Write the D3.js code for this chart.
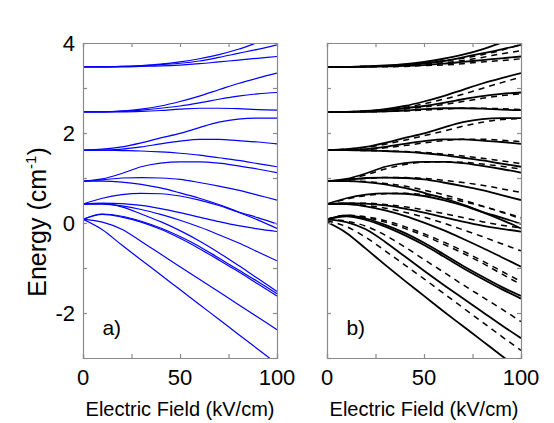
<!DOCTYPE html>
<html><head><meta charset="utf-8">
<script src="https://cdn.jsdelivr.net/npm/d3@7"></script>
<style>body{margin:0;background:#fff}svg{display:block}text{font-family:"Liberation Sans",Arial,sans-serif;fill:#000}</style>
</head><body><svg id="c" width="554" height="423"></svg>
<script>
// Electric field samples (kV/cm)
const fieldKV = [0,10,20,30,40,50,60,70,80,90,100];
const xTickValues = [0,25,50,75,100];
const xTickLabels = [0,50,100];
const yTickValues = [-3,-2,-1,0,1,2,3,4];
const yTickLabels = [-2,0,2,4];

// Panel a (blue) energy levels (cm^-1)
const A01 = [3.47,3.47,3.48,3.50,3.53,3.58,3.65,3.74,3.86,4.01,4.16];
const A02 = [3.47,3.47,3.48,3.49,3.52,3.55,3.60,3.68,3.77,3.86,3.96];
const A03 = [3.47,3.47,3.47,3.48,3.49,3.51,3.54,3.58,3.62,3.66,3.70];
const A04 = [2.47,2.47,2.49,2.53,2.60,2.70,2.82,2.96,3.10,3.22,3.33];
const A05 = [2.47,2.47,2.48,2.51,2.55,2.60,2.67,2.75,2.82,2.87,2.90];
const A06 = [2.47,2.47,2.47,2.48,2.50,2.53,2.55,2.55,2.54,2.52,2.51];
const A07 = [1.62,1.64,1.69,1.78,1.89,1.99,2.12,2.24,2.31,2.33,2.33];
const A08 = [1.62,1.62,1.64,1.69,1.76,1.82,1.86,1.86,1.83,1.80,1.76];
const A09 = [1.62,1.62,1.61,1.60,1.58,1.55,1.51,1.45,1.39,1.32,1.25];
const A10 = [0.93,0.98,1.10,1.25,1.33,1.36,1.36,1.33,1.27,1.20,1.12];
const A11 = [0.93,0.96,1.00,1.01,1.00,0.97,0.90,0.82,0.73,0.62,0.51];
const A12 = [0.93,0.93,0.91,0.86,0.78,0.67,0.55,0.41,0.25,0.12,-0.02];
const A13 = [0.42,0.55,0.63,0.66,0.65,0.60,0.51,0.39,0.24,0.07,-0.12];
const A14 = [0.42,0.44,0.43,0.39,0.32,0.23,0.13,0.03,-0.06,-0.13,-0.19];
const A15 = [0.42,0.42,0.38,0.30,0.19,0.06,-0.09,-0.26,-0.44,-0.64,-0.84];
const A16 = [0.42,0.43,0.36,0.20,0.03,-0.17,-0.40,-0.66,-0.94,-1.23,-1.52];
const A17 = [0.08,0.20,0.15,0.04,-0.11,-0.30,-0.52,-0.78,-1.04,-1.30,-1.57];
const A18 = [0.08,0.19,0.13,0.02,-0.14,-0.34,-0.57,-0.82,-1.08,-1.35,-1.62];
const A19 = [0.08,0.02,-0.14,-0.41,-0.69,-0.97,-1.25,-1.53,-1.81,-2.09,-2.37];
const A20 = [0.08,-0.15,-0.49,-0.82,-1.15,-1.48,-1.81,-2.14,-2.47,-2.80,-3.13];

// Panel b solid (lower levels differ from panel a)
const B15 = [0.42,0.42,0.37,0.28,0.16,0.01,-0.16,-0.35,-0.55,-0.76,-0.97];
const B16 = [0.08,0.17,0.10,-0.04,-0.22,-0.44,-0.69,-0.95,-1.19,-1.42,-1.62];
const B17 = [0.08,0.15,0.07,-0.08,-0.27,-0.49,-0.74,-1.00,-1.24,-1.47,-1.68];
const B18 = [0.08,0.02,-0.14,-0.42,-0.74,-1.06,-1.37,-1.67,-1.97,-2.27,-2.56];
const B19 = [0.02,-0.22,-0.57,-0.93,-1.28,-1.62,-1.96,-2.29,-2.62,-2.95,-3.27];

// Panel b dashed
const D01 = [3.47,3.47,3.48,3.49,3.51,3.55,3.60,3.66,3.74,3.84,3.97];
const D02 = [3.47,3.47,3.48,3.49,3.50,3.53,3.56,3.61,3.68,3.76,3.83];
const D03 = [3.47,3.47,3.47,3.47,3.48,3.50,3.51,3.54,3.58,3.61,3.65];
const D04 = [2.47,2.47,2.49,2.52,2.57,2.65,2.75,2.86,2.99,3.12,3.24];
const D05 = [2.47,2.47,2.48,2.50,2.53,2.58,2.63,2.70,2.77,2.83,2.87];
const D06 = [2.47,2.47,2.47,2.48,2.49,2.51,2.53,2.55,2.55,2.54,2.52];
const D07 = [1.62,1.64,1.68,1.75,1.84,1.94,2.04,2.15,2.24,2.30,2.32];
const D08 = [1.62,1.62,1.63,1.67,1.72,1.78,1.83,1.86,1.86,1.84,1.81];
const D09 = [1.62,1.62,1.61,1.60,1.59,1.57,1.53,1.49,1.44,1.38,1.32];
const D10 = [0.93,0.97,1.07,1.20,1.30,1.35,1.36,1.35,1.31,1.26,1.20];
const D11 = [0.93,0.96,0.99,1.01,1.01,0.99,0.95,0.90,0.84,0.76,0.68];
const D12 = [0.93,0.93,0.92,0.88,0.82,0.73,0.63,0.51,0.38,0.25,0.12];
const D13 = [0.42,0.53,0.61,0.65,0.66,0.63,0.57,0.48,0.37,0.24,0.09];
const D14 = [0.42,0.44,0.44,0.41,0.36,0.29,0.21,0.12,0.03,-0.05,-0.11];
const D15 = [0.42,0.42,0.39,0.33,0.24,0.13,0.00,-0.15,-0.30,-0.46,-0.62];
const D16 = [0.08,0.17,0.14,0.05,-0.08,-0.24,-0.42,-0.62,-0.84,-1.07,-1.30];
const D17 = [0.08,0.16,0.12,0.02,-0.12,-0.28,-0.47,-0.67,-0.89,-1.13,-1.37];
const D18 = [0.08,0.04,-0.07,-0.27,-0.53,-0.81,-1.09,-1.37,-1.64,-1.91,-2.19];
const D19 = [0.05,-0.08,-0.32,-0.62,-0.93,-1.24,-1.56,-1.88,-2.20,-2.52,-2.83];

const panelA = [A01,A02,A03,A04,A05,A06,A07,A08,A09,A10,A11,A12,A13,A14,A15,A16,A17,A18,A19,A20];
const panelBSolid = [A01,A02,A03,A04,A05,A06,A07,A08,A09,A10,A11,A12,A13,A14,B15,B16,B17,B18,B19];
const panelBDashed = [D01,D02,D03,D04,D05,D06,D07,D08,D09,D10,D11,D12,D13,D14,D15,D16,D17,D18,D19];

const svg = d3.select("#c");
const plotTop = 43, plotBottom = 358;
const y = d3.scaleLinear().domain([-3,4]).range([plotBottom, plotTop]);
const axisColor = "#8a8a8a";

function panel(id, x0, x1, label, showY, layers){
  const x = d3.scaleLinear().domain([0,100]).range([x0, x1]);
  const g = svg.append("g");
  g.append("clipPath").attr("id","clip"+id).append("rect")
    .attr("x",x0).attr("y",plotTop).attr("width",x1-x0).attr("height",plotBottom-plotTop);
  const line = d3.line().x((d,i)=>x(fieldKV[i])).y(d=>y(d)).curve(d3.curveMonotoneX);
  const plot = g.append("g").attr("clip-path","url(#clip"+id+")");
  layers.forEach(L=>{
    plot.selectAll(null).data(L.data).enter().append("path")
      .attr("d", line).attr("fill","none").attr("stroke",L.color)
      .attr("stroke-width",L.width).attr("stroke-dasharray",L.dash||null);
  });
  const axB = d3.axisBottom(x).tickValues(xTickValues).tickSize(-4).tickFormat("");
  const axT = d3.axisTop(x).tickValues(xTickValues).tickSize(-4).tickFormat("");
  const axL = d3.axisLeft(y).tickValues(yTickValues).tickSize(-4).tickFormat("");
  const axR = d3.axisRight(y).tickValues(yTickValues).tickSize(-4).tickFormat("");
  [[axB,`translate(0,${plotBottom})`],[axT,`translate(0,${plotTop})`],[axL,`translate(${x0},0)`],[axR,`translate(${x1},0)`]]
   .forEach(([ax,tr])=>{
     const a = g.append("g").attr("transform",tr).call(ax);
     a.selectAll("path,line").attr("stroke",axisColor).attr("stroke-width",1.2);
   });
  g.selectAll(null).data(xTickLabels).enter().append("text")
    .attr("x",d=>x(d)).attr("y",plotBottom+27).attr("text-anchor","middle")
    .attr("font-size",22).text(d=>d);
  if(showY){
    g.selectAll(null).data(yTickLabels).enter().append("text")
      .attr("x",x0-8).attr("y",d=>y(d)+8).attr("text-anchor","end")
      .attr("font-size",22).text(d=>d);
  }
  g.append("text").attr("x",(x0+x1)/2).attr("y",416).attr("text-anchor","middle")
    .attr("font-size",20).text("Electric Field (kV/cm)");
  g.append("text").attr("x",x(10)).attr("y",y(-2.3)+8).attr("font-size",21).text(label);
}

panel("a", 83, 277, "a)", true, [{data:panelA, color:"#0000ff", width:1.2}]);
panel("b", 327, 521, "b)", false, [
  {data:panelBDashed, color:"#000", width:1.5, dash:"6,5"},
  {data:panelBSolid, color:"#000", width:1.8}
]);

const ylg = svg.append("g").attr("transform",`translate(46,222) rotate(-90)`);
const yl = ylg.append("text").attr("x",0).attr("y",0).attr("font-size",25);
yl.append("tspan").text("Energy (cm");
yl.append("tspan").attr("font-size",15).attr("dy",-10).text("-1");
yl.append("tspan").attr("dy",10).text(")");
const w = yl.node().getBBox().width;
yl.attr("x",-w/2);
</script></body></html>
